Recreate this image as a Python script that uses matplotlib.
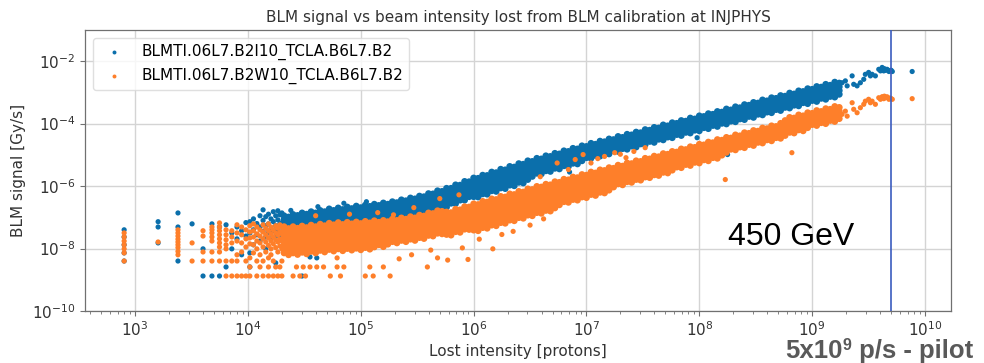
import numpy as np
import matplotlib
matplotlib.use("Agg")
import matplotlib.pyplot as plt
from matplotlib.ticker import LogLocator, NullLocator

# ---------------- data (log10 of lost intensity / log10 of BLM signal) ----------------
label_blue = "BLMTI.06L7.B2I10_TCLA.B6L7.B2"
label_orange = "BLMTI.06L7.B2W10_TCLA.B6L7.B2"

# low-intensity region: quantised intensities (multiples of 800 protons)
low_cols_lx = [2.903, 3.204, 3.380, 3.505, 3.602, 3.681, 3.748, 3.806, 3.857, 3.903,
               3.944, 3.982, 4.017, 4.049, 4.079, 4.107, 4.134, 4.158, 4.182, 4.204,
               4.225, 4.246, 4.265, 4.283, 4.301]
blue_low_ly = [
    [-7.40, -7.63, -7.88, -8.14, -8.40], [-7.14, -7.31, -7.82], [-6.86, -7.31, -8.40],
    [-7.21], [-8.01, -8.88], [-7.21, -8.88], [-7.31, -8.88], [-7.24, -8.59],
    [-7.50, -8.01], [-7.31, -7.69], [-7.43, -8.20], [-7.17, -7.60],
    [-7.14, -7.50, -8.14, -8.59], [-7.05, -7.40, -7.88], [-7.20, -7.56],
    [-6.95, -7.31, -7.76], [-6.76, -7.10, -7.45], [-6.98, -7.27, -7.63, -8.01],
    [-6.90, -7.21, -7.50], [-7.05, -7.38, -7.69], [-6.82, -7.14, -7.43],
    [-6.95, -7.27, -7.60, -8.46], [-6.79, -7.08, -7.40], [-6.92, -7.21, -7.56],
    [-6.86, -7.17, -7.47]]
orange_low_ly = [
    [-7.50, -7.63, -7.76, -7.88, -8.01, -8.14, -8.40], [-7.79],
    [-7.40, -7.50, -7.60, -7.70, -7.79, -7.88, -7.97, -8.09, -8.20], [-7.82, -8.40],
    [-7.43, -7.60, -8.11, -8.40], [-7.31, -7.40, -7.50, -7.63, -7.76, -8.11, -8.40],
    [-7.18, -7.31, -7.43, -7.56, -7.69, -7.82, -7.95, -8.11, -8.40],
    [-7.40, -7.56, -7.72, -7.88, -8.01, -8.40, -8.88], [-7.43, -7.63, -7.82, -8.40, -8.88],
    [-7.24, -7.50, -7.76, -8.20, -8.40, -8.88], [-7.31, -7.56, -7.82, -8.11, -8.88],
    [-7.40, -7.69, -7.95, -8.40, -8.88], [-7.27, -7.47, -7.66, -7.85, -8.30, -8.59, -8.88],
    [-7.21, -7.43, -7.63, -7.88, -8.14], [-7.31, -7.53, -7.76, -8.01, -8.40, -8.88],
    [-7.40, -7.60, -7.82, -8.20, -8.59], [-7.24, -7.47, -7.69, -7.95, -8.40, -8.88],
    [-7.35, -7.56, -7.79, -8.11], [-7.21, -7.43, -7.66, -7.90, -8.30, -8.59, -8.88],
    [-7.31, -7.53, -7.76, -8.01, -8.20], [-7.40, -7.63, -7.85, -8.40, -8.88],
    [-7.27, -7.50, -7.72, -7.97, -8.59], [-7.35, -7.56, -7.79, -8.11, -8.88],
    [-7.24, -7.47, -7.69, -7.92, -8.59], [-7.31, -7.53, -7.76, -8.01, -8.40, -8.88]]

# dense band region
band_cols_lx = [4.32, 4.36, 4.40, 4.44, 4.48, 4.52, 4.56, 4.60, 4.64, 4.68, 4.72, 4.76,
                4.80, 4.84, 4.88, 4.92, 4.96, 5.00, 5.04, 5.08, 5.12, 5.16, 5.20, 5.24,
                5.28, 5.32, 5.36, 5.40, 5.44, 5.48, 5.52, 5.56, 5.60, 5.64, 5.68, 5.72,
                5.76, 5.80, 5.84, 5.88, 5.92, 5.96, 6.00, 6.04, 6.08, 6.12, 6.16, 6.20,
                6.24, 6.28, 6.32, 6.36, 6.40, 6.44, 6.48, 6.52, 6.56, 6.60, 6.64, 6.68,
                6.72, 6.76, 6.80, 6.84, 6.88, 6.92, 6.96, 7.00, 7.04, 7.08, 7.12, 7.16,
                7.20, 7.24, 7.28, 7.32, 7.36, 7.40, 7.44, 7.48, 7.52, 7.56, 7.60, 7.64,
                7.68, 7.72, 7.76, 7.80, 7.84, 7.88, 7.92, 7.96, 8.00, 8.04, 8.08, 8.12,
                8.16, 8.20, 8.24, 8.28, 8.32, 8.36, 8.40, 8.44, 8.48, 8.52, 8.56, 8.60,
                8.64, 8.68, 8.72, 8.76, 8.80, 8.84, 8.88, 8.92, 8.96, 9.00, 9.04, 9.08,
                9.12, 9.16, 9.20, 9.24]
blue_band_ly = [
    [-6.95, -7.07, -7.19, -7.31, -7.43], [-6.99, -7.11, -7.23, -7.35, -7.47],
    [-6.91, -7.03, -7.15, -7.27, -7.39], [-6.94, -7.06, -7.18, -7.30, -7.42],
    [-6.86, -6.98, -7.10, -7.22, -7.34], [-6.90, -7.02, -7.14, -7.26, -7.38],
    [-6.82, -6.94, -7.06, -7.18, -7.30, -7.42], [-6.86, -6.98, -7.10, -7.22, -7.34],
    [-6.78, -6.90, -7.02, -7.14, -7.26, -7.38], [-6.82, -6.94, -7.06, -7.18, -7.30],
    [-6.73, -6.85, -6.97, -7.09, -7.21, -7.33], [-6.78, -6.90, -7.02, -7.14, -7.26],
    [-6.70, -6.82, -6.94, -7.06, -7.18, -7.30], [-6.75, -6.87, -6.99, -7.11, -7.23],
    [-6.67, -6.79, -6.91, -7.03, -7.15, -7.27], [-6.72, -6.84, -6.96, -7.08, -7.20],
    [-6.64, -6.76, -6.88, -7.00, -7.12, -7.24], [-6.69, -6.81, -6.93, -7.05, -7.17],
    [-6.61, -6.73, -6.85, -6.97, -7.09, -7.21], [-6.65, -6.77, -6.89, -7.01, -7.13],
    [-6.58, -6.70, -6.82, -6.94, -7.06, -7.18], [-6.62, -6.74, -6.86, -6.98, -7.10],
    [-6.54, -6.66, -6.78, -6.90, -7.02, -7.14], [-6.58, -6.70, -6.82, -6.94, -7.06],
    [-6.50, -6.62, -6.74, -6.86, -6.98, -7.10], [-6.53, -6.65, -6.77, -6.89, -7.01],
    [-6.44, -6.56, -6.68, -6.80, -6.92, -7.04], [-6.47, -6.59, -6.71, -6.83, -6.95],
    [-6.38, -6.50, -6.62, -6.74, -6.86, -6.98], [-6.41, -6.53, -6.65, -6.77, -6.89],
    [-6.32, -6.44, -6.56, -6.68, -6.80, -6.92], [-6.34, -6.46, -6.58, -6.70, -6.82],
    [-6.24, -6.36, -6.48, -6.60, -6.72, -6.84], [-6.25, -6.37, -6.49, -6.61, -6.73],
    [-6.15, -6.27, -6.39, -6.51, -6.63, -6.75], [-6.17, -6.29, -6.41, -6.53, -6.65],
    [-6.07, -6.19, -6.31, -6.43, -6.55, -6.67], [-6.07, -6.19, -6.31, -6.43, -6.55],
    [-5.96, -6.08, -6.20, -6.32, -6.44, -6.56], [-5.97, -6.09, -6.21, -6.33, -6.45],
    [-5.85, -5.97, -6.09, -6.21, -6.33, -6.45], [-5.86, -5.98, -6.10, -6.22, -6.34],
    [-5.74, -5.86, -5.98, -6.10, -6.22, -6.34], [-5.75, -5.87, -5.99, -6.11, -6.23, -6.35],
    [-5.65, -5.77, -5.89, -6.01, -6.13, -6.25], [-5.66, -5.78, -5.90, -6.02, -6.14, -6.26],
    [-5.55, -5.67, -5.79, -5.91, -6.03, -6.15], [-5.57, -5.69, -5.81, -5.93, -6.05, -6.17],
    [-5.46, -5.58, -5.70, -5.82, -5.94, -6.06], [-5.48, -5.60, -5.72, -5.84, -5.96, -6.08],
    [-5.37, -5.49, -5.61, -5.73, -5.85, -5.97], [-5.39, -5.51, -5.63, -5.75, -5.87, -5.99],
    [-5.28, -5.40, -5.52, -5.64, -5.76, -5.88], [-5.30, -5.42, -5.54, -5.66, -5.78, -5.90],
    [-5.19, -5.31, -5.43, -5.55, -5.67, -5.79], [-5.21, -5.33, -5.45, -5.57, -5.69],
    [-5.11, -5.23, -5.35, -5.47, -5.59], [-5.13, -5.25, -5.37, -5.49, -5.61],
    [-5.03, -5.15, -5.27, -5.39, -5.51], [-5.05, -5.17, -5.29, -5.41, -5.53],
    [-4.95, -5.07, -5.19, -5.31, -5.43], [-4.97, -5.09, -5.21, -5.33, -5.45],
    [-4.87, -4.99, -5.11, -5.23, -5.35], [-4.89, -5.01, -5.13, -5.25, -5.37],
    [-4.79, -4.91, -5.03, -5.15, -5.27], [-4.81, -4.93, -5.05, -5.17, -5.29],
    [-4.71, -4.83, -4.95, -5.07, -5.19], [-4.73, -4.85, -4.97, -5.09],
    [-4.63, -4.75, -4.87, -4.99, -5.11], [-4.66, -4.78, -4.90, -5.02],
    [-4.56, -4.68, -4.80, -4.92, -5.04], [-4.58, -4.70, -4.82, -4.94],
    [-4.49, -4.61, -4.73, -4.85, -4.97], [-4.51, -4.63, -4.75, -4.87],
    [-4.41, -4.53, -4.65, -4.77, -4.89], [-4.44, -4.56, -4.68, -4.80],
    [-4.34, -4.46, -4.58, -4.70, -4.82], [-4.36, -4.48, -4.60, -4.72],
    [-4.27, -4.39, -4.51, -4.63, -4.75], [-4.29, -4.41, -4.53, -4.65],
    [-4.19, -4.31, -4.43, -4.55, -4.67], [-4.21, -4.33, -4.45, -4.57],
    [-4.12, -4.24, -4.36, -4.48, -4.60], [-4.14, -4.26, -4.38, -4.50],
    [-4.04, -4.16, -4.28, -4.40, -4.52], [-4.07, -4.19, -4.31, -4.43],
    [-3.97, -4.09, -4.21, -4.33, -4.45], [-3.99, -4.11, -4.23, -4.35],
    [-3.90, -4.02, -4.14, -4.26, -4.38], [-3.92, -4.04, -4.16, -4.28],
    [-3.82, -3.94, -4.06, -4.18, -4.30], [-3.85, -3.97, -4.09, -4.21],
    [-3.75, -3.87, -3.99, -4.11, -4.23], [-3.77, -3.89, -4.01, -4.13],
    [-3.68, -3.80, -3.92, -4.04, -4.16], [-3.70, -3.82, -3.94, -4.06],
    [-3.61, -3.73, -3.85, -3.97, -4.09], [-3.63, -3.75, -3.87, -3.99],
    [-3.53, -3.65, -3.77, -3.89, -4.01], [-3.56, -3.68, -3.80, -3.92],
    [-3.46, -3.58, -3.70, -3.82, -3.94], [-3.49, -3.61, -3.73, -3.85],
    [-3.39, -3.51, -3.63, -3.75, -3.87], [-3.41, -3.53, -3.65, -3.77],
    [-3.32, -3.44, -3.56, -3.68, -3.80], [-3.34, -3.46, -3.58, -3.70],
    [-3.24, -3.36, -3.48, -3.60, -3.72], [-3.27, -3.39, -3.51, -3.63],
    [-3.17, -3.29, -3.41, -3.53, -3.65], [-3.19, -3.31, -3.43, -3.55],
    [-3.10, -3.22, -3.34, -3.46, -3.58], [-3.12, -3.24, -3.36, -3.48],
    [-3.02, -3.14, -3.26, -3.38, -3.50], [-3.05, -3.17, -3.29, -3.41],
    [-2.95, -3.07, -3.19, -3.31, -3.43], [-2.97, -3.09, -3.21, -3.33],
    [-2.88, -3.00, -3.12, -3.24, -3.36], [-2.90, -3.02, -3.14, -3.26],
    [-2.81, -2.93, -3.05, -3.17, -3.29], [-2.83, -2.95, -3.07, -3.19],
    [-2.74, -2.86, -2.98, -3.10, -3.22], [-2.77, -2.89, -3.01, -3.13],
    [-2.67, -2.79, -2.91, -3.03, -3.15], [-2.70, -2.82, -2.94, -3.06]]
orange_band_ly = [
    [-7.30, -7.42, -7.54, -7.66, -7.78, -7.90, -8.02, -8.14],
    [-7.36, -7.48, -7.60, -7.72, -7.84, -7.96, -8.08, -8.20],
    [-7.30, -7.42, -7.54, -7.66, -7.78, -7.90, -8.02, -8.14],
    [-7.35, -7.47, -7.59, -7.71, -7.83, -7.95, -8.07, -8.19],
    [-7.28, -7.40, -7.52, -7.64, -7.76, -7.88, -8.00, -8.12],
    [-7.33, -7.45, -7.57, -7.69, -7.81, -7.93, -8.05, -8.17],
    [-7.25, -7.37, -7.49, -7.61, -7.73, -7.85, -7.97, -8.09],
    [-7.30, -7.42, -7.54, -7.66, -7.78, -7.90, -8.02, -8.14],
    [-7.22, -7.34, -7.46, -7.58, -7.70, -7.82, -7.94, -8.06],
    [-7.27, -7.39, -7.51, -7.63, -7.75, -7.87, -7.99, -8.11],
    [-7.19, -7.31, -7.43, -7.55, -7.67, -7.79, -7.91, -8.03],
    [-7.24, -7.36, -7.48, -7.60, -7.72, -7.84, -7.96, -8.08],
    [-7.17, -7.29, -7.41, -7.53, -7.65, -7.77, -7.89, -8.01],
    [-7.23, -7.35, -7.47, -7.59, -7.71, -7.83, -7.95, -8.07],
    [-7.16, -7.28, -7.40, -7.52, -7.64, -7.76, -7.88, -8.00],
    [-7.21, -7.33, -7.45, -7.57, -7.69, -7.81, -7.93, -8.05],
    [-7.15, -7.27, -7.39, -7.51, -7.63, -7.75, -7.87, -7.99],
    [-7.20, -7.32, -7.44, -7.56, -7.68, -7.80, -7.92, -8.04],
    [-7.13, -7.25, -7.37, -7.49, -7.61, -7.73, -7.85, -7.97],
    [-7.18, -7.30, -7.42, -7.54, -7.66, -7.78, -7.90, -8.02],
    [-7.11, -7.23, -7.35, -7.47, -7.59, -7.71, -7.83, -7.95],
    [-7.16, -7.28, -7.40, -7.52, -7.64, -7.76, -7.88],
    [-7.10, -7.22, -7.34, -7.46, -7.58, -7.70, -7.82, -7.94],
    [-7.14, -7.26, -7.38, -7.50, -7.62, -7.74, -7.86],
    [-7.06, -7.18, -7.30, -7.42, -7.54, -7.66, -7.78],
    [-7.10, -7.22, -7.34, -7.46, -7.58, -7.70, -7.82],
    [-7.02, -7.14, -7.26, -7.38, -7.50, -7.62, -7.74],
    [-7.06, -7.18, -7.30, -7.42, -7.54, -7.66, -7.78],
    [-6.98, -7.10, -7.22, -7.34, -7.46, -7.58, -7.70],
    [-7.02, -7.14, -7.26, -7.38, -7.50, -7.62, -7.74],
    [-6.93, -7.05, -7.17, -7.29, -7.41, -7.53, -7.65],
    [-6.96, -7.08, -7.20, -7.32, -7.44, -7.56, -7.68],
    [-6.86, -6.98, -7.10, -7.22, -7.34, -7.46, -7.58],
    [-6.88, -7.00, -7.12, -7.24, -7.36, -7.48, -7.60],
    [-6.79, -6.91, -7.03, -7.15, -7.27, -7.39, -7.51],
    [-6.81, -6.93, -7.05, -7.17, -7.29, -7.41, -7.53],
    [-6.83, -6.95, -7.07, -7.19, -7.31, -7.43, -7.55],
    [-6.85, -6.97, -7.09, -7.21, -7.33, -7.45, -7.57],
    [-6.74, -6.86, -6.98, -7.10, -7.22, -7.34, -7.46],
    [-6.76, -6.88, -7.00, -7.12, -7.24, -7.36, -7.48],
    [-6.66, -6.78, -6.90, -7.02, -7.14, -7.26, -7.38],
    [-6.67, -6.79, -6.91, -7.03, -7.15, -7.27, -7.39],
    [-6.57, -6.69, -6.81, -6.93, -7.05, -7.17, -7.29, -7.41],
    [-6.59, -6.71, -6.83, -6.95, -7.07, -7.19, -7.31, -7.43],
    [-6.49, -6.61, -6.73, -6.85, -6.97, -7.09, -7.21, -7.33],
    [-6.51, -6.63, -6.75, -6.87, -6.99, -7.11, -7.23, -7.35],
    [-6.41, -6.53, -6.65, -6.77, -6.89, -7.01, -7.13, -7.25],
    [-6.43, -6.55, -6.67, -6.79, -6.91, -7.03, -7.15, -7.27],
    [-6.33, -6.45, -6.57, -6.69, -6.81, -6.93, -7.05, -7.17],
    [-6.35, -6.47, -6.59, -6.71, -6.83, -6.95, -7.07, -7.19],
    [-6.25, -6.37, -6.49, -6.61, -6.73, -6.85, -6.97, -7.09],
    [-6.27, -6.39, -6.51, -6.63, -6.75, -6.87, -6.99, -7.11],
    [-6.17, -6.29, -6.41, -6.53, -6.65, -6.77, -6.89, -7.01],
    [-6.19, -6.31, -6.43, -6.55, -6.67, -6.79, -6.91, -7.03],
    [-6.09, -6.21, -6.33, -6.45, -6.57, -6.69, -6.81, -6.93],
    [-6.11, -6.23, -6.35, -6.47, -6.59, -6.71, -6.83, -6.95],
    [-6.01, -6.13, -6.25, -6.37, -6.49, -6.61, -6.73, -6.85],
    [-6.03, -6.15, -6.27, -6.39, -6.51, -6.63, -6.75, -6.87],
    [-5.94, -6.06, -6.18, -6.30, -6.42, -6.54, -6.66, -6.78],
    [-5.96, -6.08, -6.20, -6.32, -6.44, -6.56, -6.68, -6.80],
    [-5.86, -5.98, -6.10, -6.22, -6.34, -6.46, -6.58, -6.70],
    [-5.88, -6.00, -6.12, -6.24, -6.36, -6.48, -6.60],
    [-5.78, -5.90, -6.02, -6.14, -6.26, -6.38, -6.50],
    [-5.80, -5.92, -6.04, -6.16, -6.28, -6.40, -6.52],
    [-5.71, -5.83, -5.95, -6.07, -6.19, -6.31, -6.43],
    [-5.73, -5.85, -5.97, -6.09, -6.21, -6.33, -6.45],
    [-5.63, -5.75, -5.87, -5.99, -6.11, -6.23, -6.35],
    [-5.65, -5.77, -5.89, -6.01, -6.13, -6.25, -6.37],
    [-5.55, -5.67, -5.79, -5.91, -6.03, -6.15, -6.27],
    [-5.58, -5.70, -5.82, -5.94, -6.06, -6.18, -6.30],
    [-5.48, -5.60, -5.72, -5.84, -5.96, -6.08, -6.20],
    [-5.50, -5.62, -5.74, -5.86, -5.98, -6.10, -6.22],
    [-5.41, -5.53, -5.65, -5.77, -5.89, -6.01, -6.13],
    [-5.43, -5.55, -5.67, -5.79, -5.91, -6.03],
    [-5.33, -5.45, -5.57, -5.69, -5.81, -5.93],
    [-5.36, -5.48, -5.60, -5.72, -5.84, -5.96],
    [-5.26, -5.38, -5.50, -5.62, -5.74, -5.86],
    [-5.28, -5.40, -5.52, -5.64, -5.76, -5.88],
    [-5.19, -5.31, -5.43, -5.55, -5.67, -5.79],
    [-5.21, -5.33, -5.45, -5.57, -5.69, -5.81],
    [-5.11, -5.23, -5.35, -5.47, -5.59, -5.71],
    [-5.13, -5.25, -5.37, -5.49, -5.61, -5.73],
    [-5.04, -5.16, -5.28, -5.40, -5.52, -5.64],
    [-5.06, -5.18, -5.30, -5.42, -5.54, -5.66],
    [-4.96, -5.08, -5.20, -5.32, -5.44, -5.56],
    [-4.98, -5.10, -5.22, -5.34, -5.46, -5.58],
    [-4.89, -5.01, -5.13, -5.25, -5.37, -5.49],
    [-4.91, -5.03, -5.15, -5.27, -5.39],
    [-4.81, -4.93, -5.05, -5.17, -5.29, -5.41],
    [-4.83, -4.95, -5.07, -5.19, -5.31],
    [-4.74, -4.86, -4.98, -5.10, -5.22, -5.34],
    [-4.76, -4.88, -5.00, -5.12, -5.24],
    [-4.66, -4.78, -4.90, -5.02, -5.14, -5.26],
    [-4.68, -4.80, -4.92, -5.04, -5.16],
    [-4.59, -4.71, -4.83, -4.95, -5.07, -5.19],
    [-4.61, -4.73, -4.85, -4.97, -5.09],
    [-4.51, -4.63, -4.75, -4.87, -4.99, -5.11],
    [-4.53, -4.65, -4.77, -4.89, -5.01],
    [-4.44, -4.56, -4.68, -4.80, -4.92],
    [-4.46, -4.58, -4.70, -4.82],
    [-4.36, -4.48, -4.60, -4.72, -4.84],
    [-4.39, -4.51, -4.63, -4.75],
    [-4.29, -4.41, -4.53, -4.65, -4.77],
    [-4.31, -4.43, -4.55, -4.67],
    [-4.22, -4.34, -4.46, -4.58, -4.70],
    [-4.24, -4.36, -4.48, -4.60],
    [-4.14, -4.26, -4.38, -4.50, -4.62],
    [-4.16, -4.28, -4.40, -4.52],
    [-4.07, -4.19, -4.31, -4.43, -4.55],
    [-4.09, -4.21, -4.33, -4.45],
    [-3.99, -4.11, -4.23, -4.35, -4.47],
    [-3.90, -4.02, -4.14, -4.26, -4.38],
    [-3.80, -3.92, -4.04, -4.16, -4.28],
    [-3.82, -3.94, -4.06, -4.18, -4.30],
    [-3.72, -3.84, -3.96, -4.08, -4.20],
    [-3.75, -3.87, -3.99, -4.11, -4.23],
    [-3.65, -3.77, -3.89, -4.01, -4.13],
    [-3.67, -3.79, -3.91, -4.03],
    [-3.58, -3.70, -3.82, -3.94, -4.06],
    [-3.61, -3.73, -3.85, -3.97],
    [-3.52, -3.64, -3.76, -3.88, -4.00],
    [-3.54, -3.66, -3.78, -3.90],
    [-3.45, -3.57, -3.69, -3.81, -3.93],
    [-3.48, -3.60, -3.72, -3.84]]

# sparse high-intensity tail (same intensities seen by both monitors)
tail_lx = [9.265, 9.294, 9.310, 9.354, 9.368, 9.398, 9.427, 9.457, 9.471, 9.500, 9.516,
           9.531, 9.560, 9.590, 9.605, 9.620, 9.634, 9.649, 9.664, 9.680, 9.710, 9.886,
           9.620, 9.640, 9.660, 9.690, 9.700]
blue_tail_ly = [-2.69, -2.63, -2.79, -2.47, -2.74, -2.79, -2.69, -2.58, -2.42, -2.36, -2.47,
                -2.42, -2.47, -2.26, -2.31, -2.20, -2.31, -2.29, -2.26, -2.33, -2.33, -2.33,
                -2.27, -2.24, -2.28, -2.30, -2.29]
orange_tail_ly = [-3.70, -3.60, -3.76, -3.33, -3.54, -3.65, -3.49, -3.38, -3.28, -3.22, -3.33,
                  -3.28, -3.38, -3.17, -3.22, -3.14, -3.20, -3.17, -3.14, -3.22, -3.22, -3.20,
                  -3.15, -3.12, -3.16, -3.18, -3.20]

# isolated points
blue_extra_lx = [4.48, 4.55, 4.61, 4.43, 4.38, 4.62, 4.85, 5.05, 8.25, 7.98, 6.85, 5.30, 5.00, 4.90]
blue_extra_ly = [-8.88, -8.27, -8.30, -8.10, -6.78, -6.66, -6.55, -6.50, -4.99, -4.45, -5.55, -7.60, -7.50, -7.70]
orange_extra_lx = [4.40, 4.46, 4.51, 4.73, 4.82, 5.04, 5.11, 5.26,
                   4.43, 4.49, 4.55, 4.61, 4.67, 4.79, 4.85, 5.08, 5.20, 5.59,
                   4.79, 5.34, 5.68, 5.77, 5.95, 5.90, 6.17, 5.45, 5.62, 6.05, 6.25, 6.35, 6.50, 6.62,
                   5.29, 5.47, 5.87, 6.59, 6.74, 6.84, 6.97, 7.04, 7.16, 7.25, 7.35, 7.42, 7.52,
                   7.10, 6.90, 7.30, 4.60, 4.90, 5.15, 5.70, 8.82, 8.23]
orange_extra_ly = [-8.88, -8.88, -8.88, -8.88, -8.88, -8.88, -8.88, -8.88,
                   -8.59, -8.59, -8.59, -8.59, -8.59, -8.59, -8.59, -8.59, -8.59, -8.59,
                   -8.30, -8.33, -8.30, -8.37, -8.35, -7.98, -8.01, -8.20, -8.05, -7.70, -7.55, -7.45, -7.25, -7.05,
                   -6.92, -6.69, -6.28, -5.70, -5.26, -5.47, -4.99, -5.26, -5.05, -4.93, -5.09, -4.89, -4.77,
                   -5.12, -5.15, -4.98, -6.95, -6.90, -6.85, -6.40, -4.93, -5.79]

pilot_intensity = 5e9
xlim = (360, 1.7e10)
ylim = (1e-10, 1e-1)
y_major = [1e-10, 1e-8, 1e-6, 1e-4, 1e-2]


def expand(cols_x, cols_y):
    xs, ys = [], []
    for x, yy in zip(cols_x, cols_y):
        xs += [x] * len(yy)
        ys += list(yy)
    return xs, ys


bx1, by1 = expand(low_cols_lx, blue_low_ly)
bx2, by2 = expand(band_cols_lx, blue_band_ly)
ox1, oy1 = expand(low_cols_lx, orange_low_ly)
ox2, oy2 = expand(band_cols_lx, orange_band_ly)

S_SPARSE = 14   # marker area for isolated points
S_DENSE = 24    # marker area inside the dense band (overlapping points)

blue_x = 10 ** np.array(bx1 + bx2 + tail_lx + blue_extra_lx)
blue_y = 10 ** np.array(by1 + by2 + blue_tail_ly + blue_extra_ly)
blue_s = ([S_SPARSE] * len(bx1) + [S_DENSE] * len(bx2)
          + [S_SPARSE] * (len(tail_lx) + len(blue_extra_lx)))
orange_x = 10 ** np.array(ox1 + ox2 + tail_lx + orange_extra_lx)
orange_y = 10 ** np.array(oy1 + oy2 + orange_tail_ly + orange_extra_ly)
orange_s = ([S_SPARSE] * len(ox1) + [S_DENSE] * len(ox2)
            + [S_SPARSE] * (len(tail_lx) + len(orange_extra_lx)))

BLUE = "#0b6fab"
ORANGE = "#fe7f2a"
TXT = "#333333"

fig = plt.figure(figsize=(9.84, 3.63), dpi=100)
ax = fig.add_axes([0.0864, 0.1433, 0.8801, 0.7741])
ax.set_xscale("log")
ax.set_yscale("log")
ax.set_axisbelow(True)

ax.scatter(blue_x, blue_y, s=blue_s, color=BLUE, linewidths=0, label=label_blue, zorder=2)
ax.scatter(orange_x, orange_y, s=orange_s, color=ORANGE, linewidths=0, label=label_orange, zorder=3)
ax.axvline(pilot_intensity, color="#3b5cbf", lw=1.2, zorder=4)

ax.set_xlim(*xlim)
ax.set_ylim(*ylim)
ax.set_yticks(y_major)
ax.yaxis.set_minor_locator(NullLocator())
ax.xaxis.set_major_locator(LogLocator(base=10, numticks=20))
ax.xaxis.set_minor_locator(LogLocator(base=10, subs=np.arange(2, 10), numticks=40))

ax.grid(True, which="major", color="#d4d4d4", lw=1.0)
for sp in ax.spines.values():
    sp.set_color("#707070")
    sp.set_linewidth(0.9)
ax.tick_params(which="both", colors="#707070", labelcolor=TXT, labelsize=11)
ax.tick_params(which="major", length=3.5)
ax.tick_params(which="minor", length=2)

ax.set_title("BLM signal vs beam intensity lost from BLM calibration at INJPHYS",
             fontsize=11, color=TXT, pad=6)
ax.set_xlabel("Lost intensity [protons]", fontsize=11, color=TXT, labelpad=3)
ax.set_ylabel("BLM signal [Gy/s]", fontsize=11, color=TXT, labelpad=4)

leg = ax.legend(loc="upper left", fontsize=11, scatterpoints=1, framealpha=0.8,
                edgecolor="#d8d8d8", markerscale=0.65)

ax.text(0.7425, 0.235, "450 GeV", transform=ax.transAxes, fontsize=23,
        family="Liberation Sans", color="black", va="baseline", zorder=5)

W, H = 984.0, 363.0
fig.canvas.draw()
r = fig.canvas.get_renderer()
kw = dict(fontweight="bold", color="#595959", family="Liberation Sans", va="baseline")
t1 = fig.text(785 / W, 5 / H, "5x10", fontsize=18.5, **kw)
bb1 = t1.get_window_extent(r)
t2 = fig.text((bb1.x1 + 0.5) / W, 13 / H, "9", fontsize=11.5, **kw)
bb2 = t2.get_window_extent(r)
t3 = fig.text(bb2.x1 / W, 5 / H, " p/s - pilot", fontsize=18.5, **kw)

fig.savefig("out.png", dpi=100)
